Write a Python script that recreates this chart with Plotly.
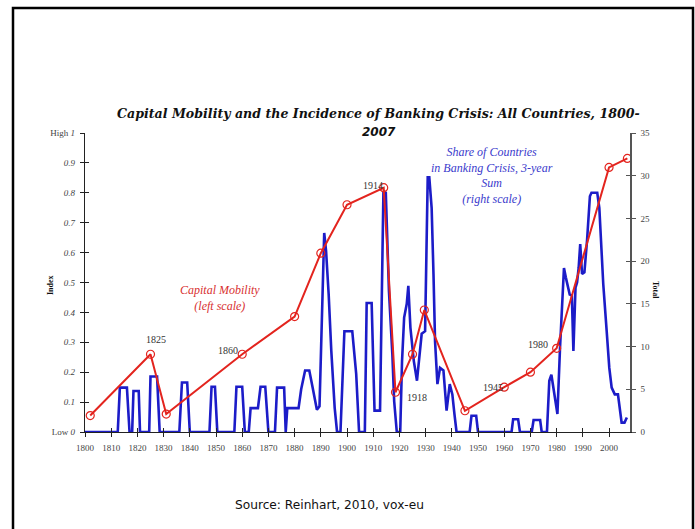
import plotly.graph_objects as go

# Capital mobility index (left scale)
mob_years = [1802, 1825, 1831, 1860, 1880, 1890, 1900, 1914, 1918.5, 1925, 1929.5,
             1945, 1960, 1970, 1980, 2000, 2007]
mob_values = [0.055, 0.26, 0.06, 0.26, 0.386, 0.598, 0.76, 0.817, 0.133, 0.26, 0.408,
              0.071, 0.15, 0.2, 0.28, 0.885, 0.915]

# Share of countries in banking crisis, 3-year sum (right scale)
crisis_years = [1800, 1812.5, 1813.3, 1816, 1817, 1818, 1818.5, 1820.5, 1821, 1824.5,
                1825, 1827.5, 1828.5, 1836, 1837, 1839, 1840, 1847.5, 1848.3, 1849.6,
                1850.5, 1857, 1857.8, 1860, 1861, 1862.5, 1863.2, 1866, 1867, 1868.8,
                1870, 1872.5, 1873.3, 1876, 1876.6, 1877.2, 1881.5, 1882.5, 1884, 1885.6,
                1887, 1888.5, 1889.5, 1891.3, 1892, 1893, 1894, 1895.3, 1896.2, 1897.5,
                1899, 1902, 1903.5, 1904.6, 1906.8, 1907.5, 1909.4, 1910.5, 1912.6, 1913.9,
                1914.8, 1915.3, 1916, 1917.3, 1918, 1919, 1920.3, 1921, 1921.8, 1922.8,
                1923.4, 1924.2, 1925.5, 1926.7, 1927.3, 1928.5, 1929.8, 1930.8, 1931.4, 1932.3,
                1933, 1933.6, 1934.5, 1935.5, 1936.8, 1937.6, 1938, 1939.2, 1940.2, 1941,
                1941.8, 1946.8, 1947.5, 1949.3, 1950, 1962.8, 1963.4, 1965.3, 1966, 1970.5,
                1971.2, 1973.7, 1974.3, 1976.3, 1977.2, 1978, 1979.2, 1980.3, 1981.3, 1982,
                1982.8, 1983.5, 1984.4, 1985, 1985.8, 1986.4, 1987.2, 1987.8, 1988.4, 1989,
                1989.7, 1990.6, 1991.6, 1992.7, 1993.3, 1995.5, 1996.3, 1997, 1997.8, 1999.1,
                2000.1, 2001, 2002.2, 2003.4, 2004, 2004.8, 2005.9, 2006.8]
crisis_values = [0, 0, 5.2, 5.2, 0, 0, 4.8, 4.8, 0, 0,
                 6.5, 6.5, 0, 0, 5.8, 5.8, 0, 0, 5.3, 5.3,
                 0, 0, 5.3, 5.3, 0, 0, 2.8, 2.8, 5.3, 5.3,
                 0, 0, 5.2, 5.2, 0, 2.8, 2.8, 5.0, 7.2, 7.2,
                 5.0, 2.6, 3.0, 23.3, 21.2, 16.1, 9.5, 2.8, 0, 0,
                 11.8, 11.8, 6.8, 0, 0, 15.1, 15.1, 2.5, 2.5, 28.2,
                 28.0, 24.1, 16.5, 9.1, 3.6, 0, 0, 8.3, 13.4, 15.0,
                 17.1, 12.2, 8.3, 6.0, 8.0, 11.5, 11.8, 29.8, 29.8, 26.2,
                 18.5, 10.6, 5.6, 7.5, 7.2, 4.4, 2.5, 5.6, 4.4, 2.1,
                 0, 0, 1.9, 1.9, 0, 0, 1.5, 1.5, 0, 0,
                 1.4, 1.4, 0, 0, 6.0, 6.7, 4.4, 2.1, 9.9, 14.5,
                 19.2, 18.1, 17.0, 16.1, 16.0, 9.5, 16.9, 17.5, 19.2, 22.0,
                 18.5, 18.7, 22.4, 27.6, 28.0, 28.0, 26.2, 22.0, 17.3, 11.8,
                 7.5, 5.2, 4.4, 4.4, 2.8, 1.1, 1.1, 1.7]

x_ticks = list(range(1800, 2001, 10))
left_tick_vals = [0, 0.1, 0.2, 0.3, 0.4, 0.5, 0.6, 0.7, 0.8, 0.9, 1]
left_tick_text = ["Low <i>0</i>", "<i>0.1</i>", "<i>0.2</i>", "<i>0.3</i>", "<i>0.4</i>",
                  "<i>0.5</i>", "<i>0.6</i>", "<i>0.7</i>", "<i>0.8</i>", "<i>0.9</i>",
                  "High <i>1</i>"]
right_tick_vals = [0, 5, 10, 15, 20, 25, 30, 35]

year_labels = ["1825", "1860", "1914", "1918", "1945", "1980"]
year_label_x = [1827.1, 1854.6, 1909.9, 1926.7, 1955.7, 1972.9]
year_label_y = [0.308, 0.271, 0.826, 0.117, 0.15, 0.294]

# plot area in pixels
W, H = 695, 529
L, R, T, B = 85, 630, 133, 432
XR = [1800, 2008]

def px(xp):
    return (xp - L) / (R - L)

def py(yp):
    return (B - yp) / (B - T)

serif = "Liberation Serif"
tick_font = dict(family=serif, size=9, color="#444444")

fig = go.Figure()
fig.add_trace(go.Scatter(x=crisis_years, y=crisis_values, mode="lines",
                         line=dict(color="#1c1cc8", width=2.6), yaxis="y",
                         xaxis="x", showlegend=False, hoverinfo="skip"))
fig.add_trace(go.Scatter(x=mob_years, y=mob_values, mode="lines+markers",
                         line=dict(color="#e3241e", width=2),
                         marker=dict(symbol="circle-open", size=8,
                                     color="#e3241e", line=dict(width=1.2)),
                         yaxis="y2", xaxis="x", showlegend=False, hoverinfo="skip"))
# dummy traces for inner tick axes
fig.add_trace(go.Scatter(x=[None], y=[None], xaxis="x2", yaxis="y3",
                         showlegend=False, hoverinfo="skip"))
fig.add_trace(go.Scatter(x=[None], y=[None], xaxis="x2", yaxis="y4",
                         showlegend=False, hoverinfo="skip"))

fig.update_layout(
    width=W, height=H,
    margin=dict(l=L, r=W - R, t=T, b=H - B),
    paper_bgcolor="white", plot_bgcolor="white",
    xaxis=dict(range=XR, tickvals=x_ticks, ticks="outside", ticklen=4,
               tickcolor="#222", showline=True, linecolor="#222", linewidth=1.3,
               showgrid=False, zeroline=False, tickfont=tick_font,
               ticklabelstandoff=3),
    xaxis2=dict(range=XR, tickvals=x_ticks, ticks="inside", ticklen=4,
                tickcolor="#222", overlaying="x", showticklabels=False,
                showline=False, showgrid=False, zeroline=False),
    yaxis=dict(range=[0, 35], side="right", tickvals=right_tick_vals,
               ticks="outside", ticklen=4, tickcolor="#555", showline=True,
               linecolor="#555", linewidth=1.5, showgrid=False, zeroline=False,
               tickfont=tick_font, ticklabelstandoff=3),
    yaxis2=dict(range=[0, 1], side="left", overlaying="y", tickvals=left_tick_vals,
                ticktext=left_tick_text, ticks="outside", ticklen=4,
                tickcolor="#222", showline=True, linecolor="#222", linewidth=1.3,
                showgrid=False, zeroline=False, tickfont=tick_font,
                ticklabelstandoff=3),
    yaxis3=dict(range=[0, 1], side="left", overlaying="y", anchor="x2",
                tickvals=left_tick_vals, ticks="inside", ticklen=4,
                tickcolor="#222", showticklabels=False, showline=False,
                showgrid=False, zeroline=False),
    yaxis4=dict(range=[0, 35], side="right", overlaying="y", anchor="x2",
                tickvals=right_tick_vals, ticks="inside", ticklen=4,
                tickcolor="#555", showticklabels=False, showline=False,
                showgrid=False, zeroline=False),
)

annotations = [
    dict(text="<b><i>Capital Mobility and the Incidence of Banking Crisis: All Countries, 1800-</i></b>",
         x=px(378), y=py(113), font=dict(family="DejaVu Serif", size=12.6, color="#111")),
    dict(text="<b><i>2007</i></b>", x=px(379), y=py(132),
         font=dict(family="DejaVu Sans", size=12, color="#111")),
    dict(text="<i>Capital Mobility<br>(left scale)</i>", x=px(220), y=py(298),
         font=dict(family=serif, size=12, color="#d83030"), align="center"),
    dict(text="<i>Share of Countries<br>in Banking Crisis, 3-year<br>Sum<br>(right scale)</i>",
         x=px(492), y=py(175), font=dict(family=serif, size=12, color="#3a3acc"),
         align="center"),
    dict(text="Source: Reinhart, 2010, vox-eu", x=px(329), y=py(505),
         font=dict(family="DejaVu Sans", size=12.2, color="#111")),
    dict(text="<b>Index</b>", x=px(50), y=py(285), textangle=-90,
         font=dict(family=serif, size=8, color="#111")),
    dict(text="<b>Total</b>", x=px(656), y=py(290), textangle=90,
         font=dict(family=serif, size=8, color="#111")),
]
for a in annotations:
    a.update(xref="paper", yref="paper", showarrow=False, xanchor="center",
             yanchor="middle")

for lbl, lx, ly in zip(year_labels, year_label_x, year_label_y):
    annotations.append(dict(text=lbl, x=lx, y=ly, xref="x", yref="y2",
                            showarrow=False, xanchor="center", yanchor="middle",
                            font=dict(family=serif, size=10, color="#333")))

fig.update_layout(annotations=annotations)

# page frame
fig.add_shape(type="rect", xref="paper", yref="paper",
              x0=px(13), x1=px(693), y0=py(545), y1=py(8),
              line=dict(color="black", width=2.5), fillcolor="rgba(0,0,0,0)")

fig.write_html("out.html", config={"displayModeBar": False},
               post_script="document.body.style.margin='0';document.body.style.overflow='hidden';")
